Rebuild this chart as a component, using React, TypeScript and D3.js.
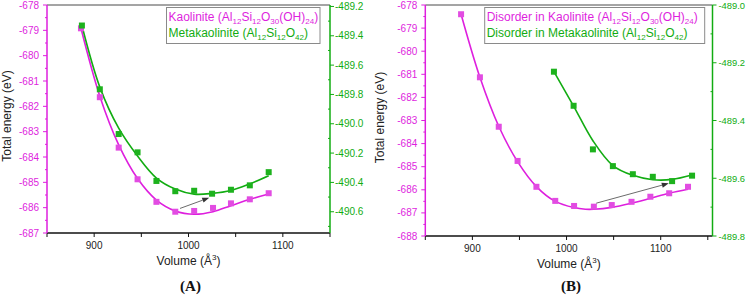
import React from "react";
import * as d3 from "d3";

// ---------- DATA ----------
// Panel A
const volA_K = [886, 906, 926, 946, 966, 986, 1006, 1026, 1045, 1065, 1085];
const engA_K = [-678.92, -681.64, -683.63, -684.88, -685.77, -686.16, -686.13, -686.01, -685.83, -685.67, -685.43];
const fitVolA_K = [886, 906, 926, 946, 966, 986, 1006, 1026, 1045, 1065, 1085];
const fitEngA_K = [-678.92, -681.6, -683.52, -684.85, -685.7, -686.13, -686.26, -686.16, -685.92, -685.67, -685.46];

const volA_M = [887, 906, 926, 946, 966, 986, 1006, 1025, 1045, 1065, 1085];
const engA_M = [-489.33, -489.765, -490.07, -490.195, -490.39, -490.46, -490.457, -490.477, -490.45, -490.42, -490.33];
const fitVolA_M = [887, 906, 926, 946, 966, 986, 1006, 1025, 1045, 1065, 1085];
const fitEngA_M = [-489.33, -489.75, -490.03, -490.22, -490.37, -490.445, -490.48, -490.475, -490.455, -490.41, -490.355];

// Panel B
const volB_K = [888, 908, 928, 948, 968, 988, 1008, 1029, 1048, 1069, 1089, 1109, 1129];
const engB_K = [-678.4, -681.13, -683.27, -684.75, -685.87, -686.48, -686.7, -686.73, -686.66, -686.52, -686.3, -686.15, -685.87];
const fitVolB_K = [888, 908, 928, 948, 968, 988, 1008, 1020, 1029, 1048, 1069, 1089, 1109, 1129];
const fitEngB_K = [-678.4, -681.13, -683.25, -684.78, -685.86, -686.5, -686.77, -686.84, -686.84, -686.76, -686.58, -686.37, -686.15, -685.98];

const volB_M = [986.6, 1007.5, 1028, 1049.2, 1070.4, 1091.6, 1112.1, 1133.3];
const engB_M = [-489.231, -489.349, -489.5, -489.558, -489.586, -489.595, -489.61, -489.591];
const fitVolB_M = [986.6, 1007.5, 1028, 1049.2, 1070.4, 1091.6, 1112.1, 1133.3];
const fitEngB_M = [-489.231, -489.35, -489.47, -489.556, -489.59, -489.605, -489.604, -489.589];

const xTicks = [850, 900, 950, 1000, 1050, 1100, 1150];
const xTickLabels = [900, 1000, 1100];

const MAG = "#DE1FDE";
const MAG_PT = "#E24CE2";
const GRN = "#12AC12";
const GRN_PT = "#1DB21D";
const FONT = "Arial, 'Liberation Sans', sans-serif";

type PanelProps = {
  x0: number; x1: number; y0: number; y1: number;
  xDomain: [number, number];
  lDomain: [number, number];
  rDomain: [number, number];
  lMajor: number[]; lMinor: number[];
  rMajor: number[]; rMinor: number[];
  rDigits: number;
  rLabelGap: number;
  rFont: number;
  kVol: number[]; kEng: number[]; kFitV: number[]; kFitE: number[];
  mVol: number[]; mEng: number[]; mFitV: number[]; mFitE: number[];
  arrow: [number, number, number, number];
  legendX0: number; legendX1: number;
  prefix: string;
  yLabelX: number;
  xLabel: string;
  panelLabel: string;
};

function LegendText({ x, y, color, parts }: { x: number; y: number; color: string; parts: [string, boolean][] }) {
  let cur = 0;
  const spans: any[] = [];
  parts.forEach(([s, sub], i) => {
    const target = sub ? 3 : 0;
    const dy = target - cur;
    cur = target;
    spans.push(
      <tspan key={i} dy={dy} fontSize={sub ? 8 : 12}>{s}</tspan>
    );
  });
  return (
    <text x={x} y={y} fill={color} fontFamily={FONT} fontSize={12}>{spans}</text>
  );
}

function Panel(p: PanelProps) {
  const x = d3.scaleLinear().domain(p.xDomain).range([p.x0, p.x1]);
  const yl = d3.scaleLinear().domain(p.lDomain).range([p.y1, p.y0]);
  const yr = d3.scaleLinear().domain(p.rDomain).range([p.y1, p.y0]);
  const lineL = d3.line<number>().x((_, i) => x(p.kFitV[i])).y((d) => yl(d)).curve(d3.curveCatmullRom.alpha(0.5));
  const lineR = d3.line<number>().x((_, i) => x(p.mFitV[i])).y((d) => yr(d)).curve(d3.curveCatmullRom.alpha(0.5));
  const ms = 6;
  const [av0, ae0, av1, ae1] = p.arrow;
  const ax0 = x(av0), ay0 = yl(ae0), ax1 = x(av1), ay1 = yl(ae1);
  const ang = Math.atan2(ay1 - ay0, ax1 - ax0);
  const ah = 7, aw = 2.6;
  const bx = ax1 - ah * Math.cos(ang), by = ay1 - ah * Math.sin(ang);
  const head = `M${ax1},${ay1} L${bx + aw * Math.sin(ang)},${by - aw * Math.cos(ang)} L${bx - aw * Math.sin(ang)},${by + aw * Math.cos(ang)} Z`;
  const cx = (p.x0 + p.x1) / 2;
  const kName = p.prefix + "Kaolinite (";
  const mName = p.prefix + "Metakaolinite (";
  return (
    <g>
      {/* top border */}
      <line x1={p.x0} x2={p.x1} y1={p.y0} y2={p.y0} stroke="#4a4a4a" strokeWidth={1} />
      {/* fit curves */}
      <path d={lineL(p.kFitE) || ""} fill="none" stroke={MAG} strokeWidth={1.6} />
      <path d={lineR(p.mFitE) || ""} fill="none" stroke={GRN} strokeWidth={1.6} />
      {/* points */}
      {p.kVol.map((v, i) => (
        <rect key={"k" + i} x={x(v) - ms / 2} y={yl(p.kEng[i]) - ms / 2} width={ms} height={ms} fill={MAG_PT} />
      ))}
      {p.mVol.map((v, i) => (
        <rect key={"m" + i} x={x(v) - ms / 2} y={yr(p.mEng[i]) - ms / 2} width={ms} height={ms} fill={GRN_PT} />
      ))}
      {/* arrow */}
      <line x1={ax0} y1={ay0} x2={bx} y2={by} stroke="#6b6b6b" strokeWidth={1} />
      <path d={head} fill="#333" />
      {/* bottom axis */}
      <line x1={p.x0} x2={p.x1} y1={p.y1} y2={p.y1} stroke="#111" strokeWidth={1.4} />
      {xTicks.map((t) => (
        <line key={"xt" + t} x1={x(t)} x2={x(t)} y1={p.y1} y2={p.y1 + 4} stroke="#111" strokeWidth={1} />
      ))}
      {xTickLabels.map((t) => (
        <text key={"xl" + t} x={x(t)} y={p.y1 + 16} textAnchor="middle" fontFamily={FONT} fontSize={10} fill="#222">{t}</text>
      ))}
      {/* left axis */}
      <line x1={p.x0} x2={p.x0} y1={p.y0} y2={p.y1} stroke={MAG} strokeWidth={1.5} />
      {p.lMajor.map((t) => (
        <line key={"lt" + t} x1={p.x0 - 4} x2={p.x0} y1={yl(t)} y2={yl(t)} stroke={MAG} strokeWidth={1} />
      ))}
      {p.lMinor.map((t) => (
        <line key={"lm" + t} x1={p.x0 - 2} x2={p.x0} y1={yl(t)} y2={yl(t)} stroke={MAG} strokeWidth={1} />
      ))}
      {p.lMajor.map((t) => (
        <text key={"ll" + t} x={p.x0 - 8} y={yl(t) + 3.5} textAnchor="end" fontFamily={FONT} fontSize={10} fill={MAG}>{String(t)}</text>
      ))}
      {/* right axis */}
      <line x1={p.x1} x2={p.x1} y1={p.y0} y2={p.y1} stroke={GRN} strokeWidth={1.5} />
      {p.rMajor.map((t) => (
        <line key={"rt" + t} x1={p.x1} x2={p.x1 + 4} y1={yr(t)} y2={yr(t)} stroke={GRN} strokeWidth={1} />
      ))}
      {p.rMinor.map((t) => (
        <line key={"rm" + t} x1={p.x1 - 2} x2={p.x1} y1={yr(t)} y2={yr(t)} stroke={GRN} strokeWidth={1} />
      ))}
      {p.rMajor.map((t) => (
        <text key={"rl" + t} x={p.x1 + p.rLabelGap} y={yr(t) + 3.5} textAnchor="start" fontFamily={FONT} fontSize={p.rFont} fill={GRN}>{t.toFixed(p.rDigits)}</text>
      ))}
      {/* legend */}
      <rect x={p.legendX0} y={7.5} width={p.legendX1 - p.legendX0} height={36} fill="#fff" stroke="#8a8a8a" strokeWidth={1} />
      <LegendText x={p.legendX0 + 2} y={20.5} color={MAG} parts={[[kName + "Al", false], ["12", true], ["Si", false], ["12", true], ["O", false], ["30", true], ["(OH)", false], ["24", true], [")", false]]} />
      <LegendText x={p.legendX0 + 2} y={37.3} color={GRN} parts={[[mName + "Al", false], ["12", true], ["Si", false], ["12", true], ["O", false], ["42", true], [")", false]]} />
      {/* axis titles */}
      <text transform={`translate(${p.yLabelX},${(p.y0 + p.y1) / 2 - 3}) rotate(-90)`} textAnchor="middle" fontFamily={FONT} fontSize={12} fill="#222">Total energy (eV)</text>
      <text x={cx} y={p.y1 + 32} textAnchor="middle" fontFamily={FONT} fontSize={12} fill="#222">
        {p.xLabel}
        <tspan fontSize={8} dy={-5}>3</tspan>
        <tspan dy={5}>)</tspan>
      </text>
      <text x={cx + 2} y={291} textAnchor="middle" fontFamily="'Times New Roman', 'Liberation Serif', serif" fontWeight="bold" fontSize={15} fill="#111">{p.panelLabel}</text>
    </g>
  );
}

function range(a: number, b: number, s: number) {
  const out: number[] = [];
  const n = Math.round((b - a) / s);
  for (let i = 0; i <= n; i++) out.push(+(a + i * s).toFixed(3));
  return out;
}

export default function App() {
  const lMajorA = range(-687, -678, 1);
  const lMinorA = range(-686.5, -678.5, 1);
  const rMajorA = range(-490.6, -489.2, 0.2);
  const rMinorA = range(-490.7, -489.3, 0.2);
  const lMajorB = range(-688, -678, 1);
  const lMinorB = range(-687.5, -678.5, 1);
  const rMajorB = range(-489.8, -489.0, 0.2);
  const rMinorB = range(-489.7, -489.1, 0.2);
  return (
    <svg width={746} height={297} style={{ position: "absolute", left: 0, top: 0, background: "#fff" }}>
      <Panel
        x0={47} x1={330} y0={5} y1={233}
        xDomain={[850, 1150]}
        lDomain={[-687, -678]}
        rDomain={[-490.745, -489.19]}
        lMajor={lMajorA} lMinor={lMinorA}
        rMajor={rMajorA} rMinor={rMinorA}
        rDigits={1} rLabelGap={5} rFont={10}
        kVol={volA_K} kEng={engA_K} kFitV={fitVolA_K} kFitE={fitEngA_K}
        mVol={volA_M} mEng={engA_M} mFitV={fitVolA_M} mFitE={fitEngA_M}
        arrow={[991, -686.03, 1022, -685.61]}
        legendX0={166.5} legendX1={320}
        prefix=""
        yLabelX={11}
        xLabel={"Volume  (Å"}
        panelLabel="(A)"
      />
      <Panel
        x0={425.3} x1={712.5} y0={5} y1={236}
        xDomain={[850, 1155]}
        lDomain={[-688, -678]}
        rDomain={[-489.8, -489.0]}
        lMajor={lMajorB} lMinor={lMinorB}
        rMajor={rMajorB} rMinor={rMinorB}
        rDigits={1} rLabelGap={6} rFont={9.4}
        kVol={volB_K} kEng={engB_K} kFitV={fitVolB_K} kFitE={fitEngB_K}
        mVol={volB_M} mEng={engB_M} mFitV={fitVolB_M} mFitE={fitEngB_M}
        arrow={[1031.5, -686.58, 1108.6, -685.72]}
        legendX0={484.7} legendX1={704.7}
        prefix="Disorder in "
        yLabelX={384}
        xLabel={"Volume (Å"}
        panelLabel="(B)"
      />
    </svg>
  );
}
